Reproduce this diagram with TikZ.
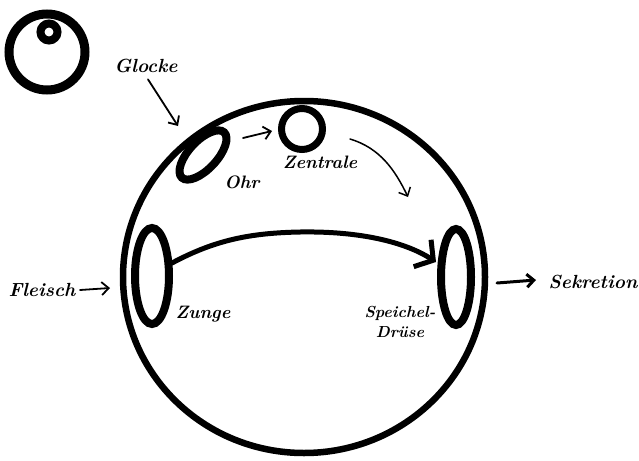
\documentclass[tikz,border=0pt]{standalone}
\usetikzlibrary{arrows.meta,shapes.geometric}
\begin{document}
\begin{tikzpicture}[x=1pt,y=-1pt,
  ring/.style={draw,ellipse,inner sep=0pt,line width=8pt},
  big/.style={font=\fontsize{19}{21}\selectfont\bfseries\itshape},
  small/.style={font=\fontsize{18}{18}\selectfont\bfseries\itshape,align=center},
  arr/.style={-{Straight Barb[length=7pt,width=13pt]},line width=1.8pt,line cap=round}]
\useasboundingbox (0,0) rectangle (639,460);
% bell
\node[draw,circle,line width=9pt,minimum size=76pt,inner sep=0pt] (bell) at (47,52) {};
\node[draw,circle,line width=8pt,minimum size=17pt,inner sep=0pt,fill=white] (clapper) at (49,32) {};
\node[big] (glocke) at (146,66) {Glocke};
% head
\node[draw,ellipse,line width=6.5pt,minimum width=362pt,minimum height=352pt,inner sep=0pt] (head) at (304,277) {};
% ear
\node[ring,minimum width=62pt,minimum height=28pt,rotate=47] (ohr) at (203,155) {};
\node[small] (ohrl) at (242,182) {Ohr};
% centre
\node[draw,circle,line width=7pt,minimum size=41pt,inner sep=0pt] (zentrale) at (302,129) {};
\node[small] (zentralel) at (320,162) {Zentrale};
% tongue
\node[ring,minimum width=34pt,minimum height=96pt] (zunge) at (152,276) {};
\node[small] (zungel) at (203,314) {Zunge};
% gland
\node[small,font=\fontsize{16}{20}\selectfont\bfseries\itshape] (drueseL) at (400,322) {Speichel-\\Drüse};
\node[ring,minimum width=30pt,minimum height=96pt] (druese) at (456,277) {};
% outer labels
\node[big] (fleisch) at (42,290) {Fleisch};
\node[big] (sekretion) at (593,282) {Sekretion};
% coordinates
\coordinate (g2) at (178,126);
\coordinate (o1) at (243,138);
\coordinate (o2) at (272,131);
\coordinate (z1) at (350,139);
\coordinate (z2) at (408,197);
\coordinate (f1) at (80,290);
\coordinate (f2) at (110,288);
\coordinate (s1) at (497,283);
\coordinate (s2) at (536,280);
\coordinate (t1) at (172,263);
\coordinate (t2) at (436,262);
% connectors
\draw[arr] ([xshift=2pt,yshift=-3pt]glocke.south) -- (g2);
\draw[arr] (o1) -- (o2);
\draw[arr,line width=1.5pt] (z1) .. controls (380,148) and (395,170) .. (z2);
\draw[arr] (f1) -- (f2);
\draw[arr,line width=3pt] (s1) -- (s2);
\draw[-{Straight Barb[length=13pt,width=32pt]},line width=5pt,line cap=round]
  (t1) .. controls (215,240) and (250,233) .. (300,232)
       .. controls (360,231) and (405,242) .. (t2);
\end{tikzpicture}
\end{document}
